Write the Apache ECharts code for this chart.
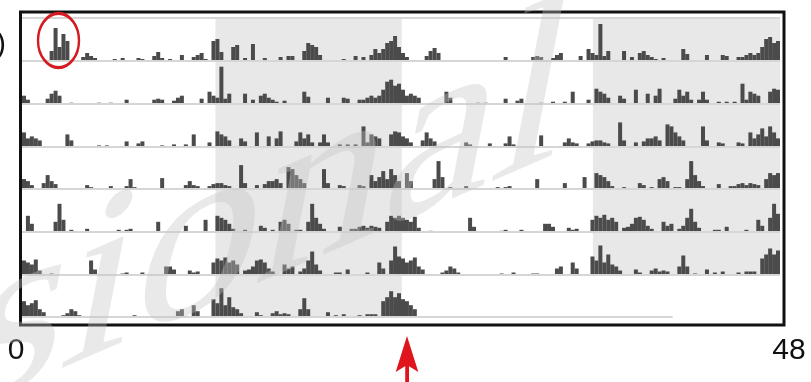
<!DOCTYPE html>
<html style='height: 100%'>
<head>
    <meta charset='utf-8'>
</head>
<body style='height: 100%; margin: 0; background: #fff'>
    <div id='container' style='width: 811px; height: 382px'></div>
    <script type='text/javascript' src='https://cdn.jsdelivr.net/npm/echarts@6/dist/echarts.min.js'></script>
    <script type="text/javascript">

// activity counts, 15-min bins (96 per day), day 1 .. day 8
// every row shows day n on the left and day n+1 on the right (double plot)
var day1 = [0,0,0,0,0,0,0,10,33,14,27,20,0,0,0,4,8,5,3,0,0,0,0,2,
            0,3,0,0,0,3,2,0,0,5,9,3,0,2,0,0,6,0,0,4,6,8,2,0,
            20,22,9,0,0,14,16,0,3,0,17,0,0,3,0,0,0,4,0,5,5,0,0,10,
            18,16,14,6,0,0,0,0,0,2,0,0,5,0,4,0,6,12,8,12,18,20,25,14];
var day2 = [8,4,0,0,0,0,5,10,13,8,0,0,1,0,0,0,0,0,0,1,0,0,1,0,
            0,0,4,0,0,0,0,0,0,4,5,4,0,0,3,6,8,0,0,0,0,5,0,12,
            8,6,37,5,10,0,0,0,10,0,4,0,8,10,6,4,2,0,3,0,0,0,0,12,
            7,0,0,0,0,6,0,0,0,6,5,0,0,4,4,6,8,6,8,14,22,24,18,20];
var day3 = [14,8,10,8,6,0,0,0,0,0,0,12,6,0,0,0,0,0,0,1,0,1,0,0,
            0,0,5,0,0,3,5,0,0,0,0,1,0,0,2,0,0,2,0,12,0,0,0,4,
            0,15,12,10,6,0,0,8,5,0,0,14,0,0,10,0,8,15,0,0,0,5,14,8,
            12,4,0,4,12,4,0,0,2,0,2,0,2,0,20,4,12,10,8,0,0,12,15,14];
var day4 = [10,8,4,0,0,6,14,8,5,0,0,0,0,0,0,0,4,2,0,0,0,0,3,0,
            0,0,3,10,2,0,0,0,0,0,0,11,0,0,0,0,0,4,8,4,3,0,0,3,
            5,6,6,4,3,0,0,24,6,0,0,4,0,5,8,8,10,6,0,22,20,14,10,6,
            0,0,0,0,20,6,0,0,4,3,0,0,0,4,3,0,14,8,12,18,10,20,14,8];
var day5 = [0,16,8,0,0,0,0,0,10,28,12,0,2,0,0,0,3,0,0,0,0,0,0,0,
            2,0,2,3,0,0,0,0,0,0,10,0,0,0,0,0,0,6,0,0,0,0,12,0,
            0,16,14,12,8,3,0,0,2,0,0,0,6,4,0,2,0,10,12,8,0,2,2,0,
            10,28,14,8,3,0,0,0,5,0,0,3,3,5,6,4,6,5,4,0,10,16,14,16];
var day6 = [14,12,10,15,4,0,0,1,0,0,0,0,0,0,0,0,0,14,5,0,0,0,0,0,
            0,1,2,0,0,0,2,0,0,0,0,0,8,8,5,0,0,0,4,2,3,0,0,0,
            12,16,14,17,12,14,10,0,4,5,8,14,15,12,6,3,0,0,10,6,8,0,3,6,
            14,23,10,4,0,0,0,2,2,0,5,0,0,0,0,2,0,0,12,6,0,14,28,18];
var day7 = [16,12,14,17,8,5,0,0,0,0,2,4,8,6,2,0,0,0,0,0,0,0,0,0,
            0,1,0,0,2,0,0,0,0,1,1,0,0,0,0,6,8,0,0,12,6,0,0,0,
            18,14,29,12,20,10,8,4,0,0,0,5,2,0,0,4,6,3,4,3,0,0,8,19,
            8,0,1,0,0,5,0,2,0,3,0,0,0,2,0,3,3,3,0,16,20,26,20,24];
var day8 = [18,16,12,8];   // recording stops here

var days = [day1, day2, day3, day4, day5, day6, day7, day8];

// shaded (dark) part of each 48 h row, in hours
var darkSpans = [[12.25, 24.05], [36.15, 48]];
var lastRowBaseEnd = 41.2;   // baseline of the last row stops early

var dom = document.getElementById("container");
var myChart = echarts.init(dom);

var rowH = 42.7, firstBase = 61;
var grids = [], xAxes = [], yAxes = [], series = [];

for (let r = 0; r < 7; r++) {
    let base = firstBase + rowH * r;
    grids.push({ left: 22, width: 758, top: base - rowH, height: rowH });
    xAxes.push({ type: 'value', gridIndex: r, min: 0, max: 48, show: false });
    yAxes.push({ type: 'value', gridIndex: r, min: 0, max: rowH, show: false });

    let pts = [];
    [days[r], days[r + 1]].forEach(function (d, half) {
        for (let i = 0; i < d.length; i++) {
            if (d[i] > 0) pts.push([half * 24 + (i + 0.5) / 4, d[i]]);
        }
    });

    let spans = r < 6 ? darkSpans : darkSpans.slice(0, 1);
    let baseEnd = r < 6 ? 48 : lastRowBaseEnd;

    series.push({
        type: 'bar',
        xAxisIndex: r,
        yAxisIndex: r,
        data: pts,
        barWidth: 4,
        itemStyle: { color: '#4b4b4b' },
        silent: true,
        markArea: {
            silent: true,
            itemStyle: { color: '#e8e8e8' },
            data: spans.map(function (s) { return [{ xAxis: s[0] }, { xAxis: s[1] }]; })
        },
        markLine: {
            silent: true,
            symbol: ['none', 'none'],
            label: { show: false },
            lineStyle: { color: '#d6d6d6', width: 2, type: 'solid' },
            data: [[{ coord: [0, 0] }, { coord: [baseEnd, 0] }]]
        }
    });
}

var red = '#e0141c';

option = {
    animation: false,
    grid: grids,
    xAxis: xAxes,
    yAxis: yAxes,
    series: series,
    graphic: [
        { type: 'line', shape: { x1: 22, y1: 18, x2: 780, y2: 18 },
          style: { stroke: '#d6d6d6', lineWidth: 2 }, z: 5 },
        { type: 'rect', shape: { x: 20.5, y: 12, width: 763.5, height: 313 },
          style: { fill: null, stroke: '#111', lineWidth: 3 }, z: 6 },
        { type: 'circle', x: 58.5, y: 40.5, scaleY: 27.2 / 20.5,
          shape: { cx: 0, cy: 0, r: 20.5 },
          style: { fill: null, stroke: '#d51b22', lineWidth: 2.4, strokeNoScale: true }, z: 7 },
        { type: 'polygon', shape: { points: [[407, 336], [418.3, 372], [407, 365], [395.7, 372]] },
          style: { fill: red }, z: 7 },
        { type: 'rect', shape: { x: 405.2, y: 362, width: 3.8, height: 20 },
          style: { fill: red }, z: 7 },
        { type: 'text', x: 16, y: 351,
          style: { text: '0', fontSize: 30, fontFamily: 'Liberation Sans', fill: '#111',
                   align: 'center', verticalAlign: 'middle' }, z: 7 },
        { type: 'text', x: 789, y: 351,
          style: { text: '48', fontSize: 30, fontFamily: 'Liberation Sans', fill: '#111',
                   align: 'center', verticalAlign: 'middle' }, z: 7 },
        { type: 'text', x: 6, y: 45,
          style: { text: 'b)', fontSize: 30, fontFamily: 'Liberation Sans', fill: '#111',
                   align: 'right', verticalAlign: 'middle' }, z: 7 },
        // faint watermark across the figure
        { type: 'text', x: -28, y: 347, skewY: 0.41, skewX: -0.19,
          style: { text: 'sional', fontSize: 250, fontFamily: 'Liberation Serif',
                   fill: 'rgba(195,195,195,0.37)', align: 'left', verticalAlign: 'middle' }, z: 10 }
    ]
};

if (option && typeof option === "object") {
    myChart.setOption(option, true);
}
       </script>
   </body>
</html>
